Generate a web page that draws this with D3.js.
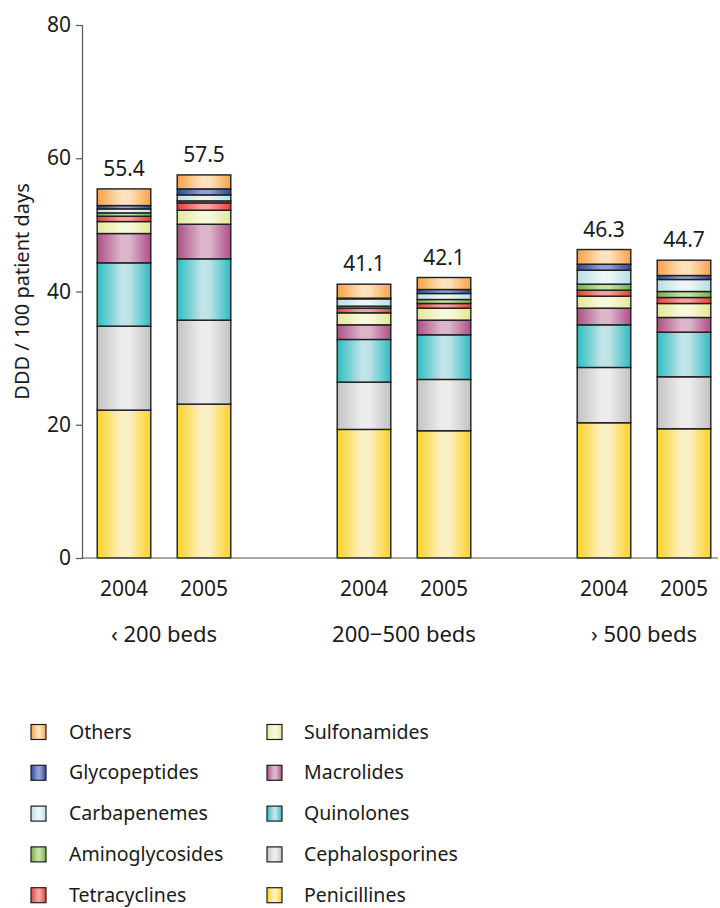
<!DOCTYPE html>
<html>
<head>
<meta charset="utf-8">
<script src="https://cdn.jsdelivr.net/npm/d3@7"></script>
<style>
  body { margin: 0; background: #fff; }
  text { font-family: "Noto Sans", "Open Sans", sans-serif; fill: #1a1a1a; }
</style>
</head>
<body>
<div id="chart"></div>
<script>
// bed-size groups and years
var groups = ["‹ 200 beds", "200−500 beds", "› 500 beds"];
var years = ["2004", "2005"];

// DDD / 100 patient days, one value per bar (group x year)
var penicillins     = [22.2, 23.1, 19.3, 19.1, 20.3, 19.4];
var cephalosporins  = [12.6, 12.6, 7.1, 7.7, 8.3, 7.8];
var quinolones      = [9.5, 9.2, 6.4, 6.7, 6.4, 6.7];
var macrolides      = [4.4, 5.2, 2.2, 2.2, 2.5, 2.2];
var sulfonamides    = [1.8, 2.1, 1.8, 1.8, 1.8, 2.1];
var tetracyclines   = [0.8, 1.1, 0.7, 0.7, 0.9, 0.9];
var aminoglycosides = [0.5, 0.3, 0.3, 0.6, 0.9, 0.9];
var carbapenemes    = [0.6, 0.9, 1.1, 0.9, 2.1, 1.8];
var glycopeptides   = [0.5, 0.9, 0.1, 0.6, 0.9, 0.6];
var others          = [2.5, 2.1, 2.1, 1.8, 2.2, 2.3];

var totals = ["55.4", "57.5", "41.1", "42.1", "46.3", "44.7"];
var yTicks = [0, 20, 40, 60, 80];

// stacking order, bottom to top
var classes = [
  {name: "Penicillines",    values: penicillins,     edge: "#fbd226", mid: "#fbf0c4"},
  {name: "Cephalosporines", values: cephalosporins,  edge: "#c2c2c2", mid: "#ededed"},
  {name: "Quinolones",      values: quinolones,      edge: "#2dbcc2", mid: "#bfe3e7"},
  {name: "Macrolides",      values: macrolides,      edge: "#ad5087", mid: "#dcb7cb"},
  {name: "Sulfonamides",    values: sulfonamides,    edge: "#e4e896", mid: "#f8f9dc"},
  {name: "Tetracyclines",   values: tetracyclines,   edge: "#e83f37", mid: "#f7a29e"},
  {name: "Aminoglycosides", values: aminoglycosides, edge: "#79b043", mid: "#c6e0a7"},
  {name: "Carbapenemes",    values: carbapenemes,    edge: "#b8dfe2", mid: "#ebf6f6"},
  {name: "Glycopeptides",   values: glycopeptides,   edge: "#2d469c", mid: "#919fd2"},
  {name: "Others",          values: others,          edge: "#f8a244", mid: "#fde2bd"}
];

// legend columns (top to bottom)
var legendLeft  = ["Others", "Glycopeptides", "Carbapenemes", "Aminoglycosides", "Tetracyclines"];
var legendRight = ["Sulfonamides", "Macrolides", "Quinolones", "Cephalosporines", "Penicillines"];

var width = 720, height = 908;
var svg = d3.select("#chart").append("svg")
    .attr("width", width)
    .attr("height", height);

// gradients: dark edges, light middle
var defs = svg.append("defs");
classes.forEach(function(c, i) {
  var g = defs.append("linearGradient")
      .attr("id", "grad" + i)
      .attr("x1", 0).attr("x2", 1).attr("y1", 0).attr("y2", 0);
  g.append("stop").attr("offset", "0%").attr("stop-color", c.edge);
  g.append("stop").attr("offset", "45%").attr("stop-color", c.mid);
  g.append("stop").attr("offset", "60%").attr("stop-color", c.mid);
  g.append("stop").attr("offset", "100%").attr("stop-color", c.edge);
});

// scales
var y = d3.scaleLinear().domain([0, 80]).range([558, 25]);
var x0 = d3.scaleBand().domain(groups).range([44, 764]);
var x1 = d3.scaleBand().domain(years).range([40, 200]);
var barW = x1.bandwidth() * 0.67;

// bars as flat list
var bars = [];
groups.forEach(function(g, gi) {
  years.forEach(function(yr, yi) {
    bars.push({group: g, year: yr, idx: gi * years.length + yi});
  });
});
function barX(b) { return x0(b.group) + x1(b.year) + x1.bandwidth() / 2 - barW / 2; }

var stackData = bars.map(function(b) {
  var row = {};
  classes.forEach(function(c) { row[c.name] = c.values[b.idx]; });
  return row;
});
var series = d3.stack().keys(classes.map(function(c) { return c.name; }))(stackData);

// y axis
var yAxis = svg.append("g")
    .attr("transform", "translate(82,0)")
    .call(d3.axisLeft(y).tickValues(yTicks).tickSize(6).tickPadding(5));
yAxis.select(".domain").attr("stroke", "#555").attr("stroke-width", 1.2);
yAxis.selectAll(".tick line").attr("stroke", "#555").attr("stroke-width", 1.2);
yAxis.selectAll(".tick text").style("font-size", "21px").attr("fill", "#1a1a1a");

svg.append("text")
    .attr("transform", "translate(29," + y(40) + ") rotate(-90)")
    .attr("text-anchor", "middle")
    .style("font-size", "20px")
    .text("DDD / 100 patient days");

// stacked bars
svg.selectAll("g.layer")
  .data(series)
  .enter().append("g")
    .attr("class", "layer")
    .attr("fill", function(d, i) { return "url(#grad" + i + ")"; })
  .selectAll("rect")
  .data(function(d) { return d; })
  .enter().append("rect")
    .attr("x", function(d, i) { return barX(bars[i]); })
    .attr("y", function(d) { return y(d[1]); })
    .attr("width", barW)
    .attr("height", function(d) { return Math.max(0, y(d[0]) - y(d[1])); })
    .attr("stroke", "#1e1e1e")
    .attr("stroke-width", 1.4);

// x axis line
svg.append("line")
    .attr("x1", 82).attr("x2", 718)
    .attr("y1", y(0)).attr("y2", y(0))
    .attr("stroke", "#555").attr("stroke-width", 1.2);

// total labels
var topLayer = series[series.length - 1];
svg.selectAll("text.total")
  .data(bars)
  .enter().append("text")
    .attr("class", "total")
    .attr("x", function(b) { return barX(b) + barW / 2; })
    .attr("y", function(b) { return y(topLayer[b.idx][1]) - 13; })
    .attr("text-anchor", "middle")
    .style("font-size", "21px")
    .text(function(b) { return totals[b.idx]; });

// year labels
svg.selectAll("text.year")
  .data(bars)
  .enter().append("text")
    .attr("class", "year")
    .attr("x", function(b) { return barX(b) + barW / 2; })
    .attr("y", 596)
    .attr("text-anchor", "middle")
    .style("font-size", "21px")
    .text(function(b) { return b.year; });

// group labels
svg.selectAll("text.group")
  .data(groups)
  .enter().append("text")
    .attr("class", "group")
    .attr("x", function(g) { return x0(g) + x0.bandwidth() / 2; })
    .attr("y", 642)
    .attr("text-anchor", "middle")
    .style("font-size", "22px")
    .text(function(g) { return g; });

// legend
function drawLegend(names, sx, tx) {
  names.forEach(function(n, i) {
    var ci = classes.findIndex(function(c) { return c.name === n; });
    var cy = 732 + i * 40.8;
    svg.append("rect")
        .attr("x", sx).attr("y", cy - 7.5)
        .attr("width", 15).attr("height", 15)
        .attr("fill", "url(#grad" + ci + ")")
        .attr("stroke", "#1e1e1e").attr("stroke-width", 1.2);
    svg.append("text")
        .attr("x", tx).attr("y", cy + 6.5)
        .style("font-size", "19.5px")
        .text(n);
  });
}
drawLegend(legendLeft, 31, 69);
drawLegend(legendRight, 267, 304);
</script>
</body>
</html>
